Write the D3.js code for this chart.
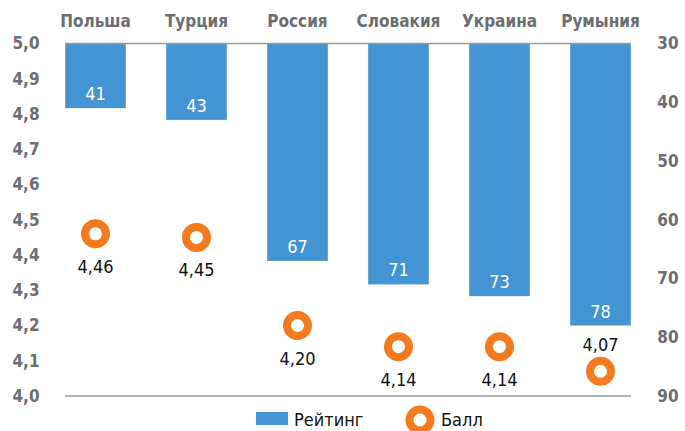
<!DOCTYPE html>
<html>
<head>
<meta charset="utf-8">
<script src="https://cdn.jsdelivr.net/npm/d3@7"></script>
<style>
body { margin: 0; background: #fff; }
text { font-family: "Liberation Sans Narrow", "DejaVu Sans Condensed", "Roboto", sans-serif; }
</style>
</head>
<body>
<div id="chart"></div>
<script>
var countries = ["Польша", "Турция", "Россия", "Словакия", "Украина", "Румыния"]
var rating = [41, 43, 67, 71, 73, 78]
var score = [4.46, 4.45, 4.20, 4.14, 4.14, 4.07]
var scoreTicks = [4.0, 4.1, 4.2, 4.3, 4.4, 4.5, 4.6, 4.7, 4.8, 4.9, 5.0]
var ratingTicks = [30, 40, 50, 60, 70, 80, 90]

var width = 685
var height = 431
var plotTop = 43.5
var plotBottom = 396

var svg = d3.select("#chart").append("svg")
  .attr("width", width)
  .attr("height", height)

var x = d3.scaleBand()
  .domain(countries)
  .range([45, 651])
  .paddingInner(0.4)
  .paddingOuter(0.2)

var yScore = d3.scaleLinear().domain([4, 5]).range([plotBottom, plotTop])
var yRating = d3.scaleLinear().domain([30, 90]).range([plotTop, plotBottom])

var fmt = function(v, d) { return d3.format("." + d + "f")(v).replace(".", ",") }
var gray = "#6d6e71"

// left axis labels
svg.append("g").selectAll("text")
  .data(scoreTicks)
  .enter().append("text")
  .attr("x", 26)
  .attr("y", d => yScore(d))
  .attr("dy", "0.35em")
  .attr("text-anchor", "middle")
  .style("font-size", "17px")
  .style("font-weight", "bold")
  .style("fill", gray)
  .text(d => fmt(d, 1))

// right axis labels
svg.append("g").selectAll("text")
  .data(ratingTicks)
  .enter().append("text")
  .attr("x", 668)
  .attr("y", d => yRating(d))
  .attr("dy", "0.35em")
  .attr("text-anchor", "middle")
  .style("font-size", "17px")
  .style("font-weight", "bold")
  .style("fill", gray)
  .text(d => d)

// category labels
svg.append("g").selectAll("text")
  .data(countries)
  .enter().append("text")
  .attr("x", d => x(d) + x.bandwidth() / 2)
  .attr("y", 27)
  .attr("text-anchor", "middle")
  .style("font-size", "17px")
  .style("font-weight", "bold")
  .style("fill", gray)
  .text(d => d)

var x0 = x(countries[0])
var x1 = x(countries[countries.length - 1]) + x.bandwidth()

// bars
svg.append("g").selectAll("rect")
  .data(countries)
  .enter().append("rect")
  .attr("x", d => x(d))
  .attr("y", yRating(30))
  .attr("width", x.bandwidth())
  .attr("height", (d, i) => yRating(rating[i]) - yRating(30))
  .style("fill", "#4494d3")

svg.append("g").selectAll("text")
  .data(countries)
  .enter().append("text")
  .attr("x", d => x(d) + x.bandwidth() / 2)
  .attr("y", (d, i) => yRating(rating[i]) - 8)
  .attr("text-anchor", "middle")
  .style("font-size", "18px")
  .style("fill", "#fff")
  .text((d, i) => rating[i])

// frame lines
svg.append("line")
  .attr("x1", x0).attr("x2", x1)
  .attr("y1", plotTop).attr("y2", plotTop)
  .style("stroke", "#9b9b9b").style("stroke-width", 1.5)
svg.append("line")
  .attr("x1", x0).attr("x2", x1)
  .attr("y1", plotBottom).attr("y2", plotBottom)
  .style("stroke", "#9b9b9b").style("stroke-width", 1.5)

// score markers
svg.append("g").selectAll("circle")
  .data(countries)
  .enter().append("circle")
  .attr("cx", d => x(d) + x.bandwidth() / 2)
  .attr("cy", (d, i) => yScore(score[i]))
  .attr("r", 10.5)
  .style("fill", "#fff")
  .style("stroke", "#f47a20")
  .style("stroke-width", 8)

svg.append("g").selectAll("text")
  .data(countries)
  .enter().append("text")
  .attr("x", d => x(d) + x.bandwidth() / 2)
  .attr("y", (d, i) => i == countries.length - 1 ? yScore(score[i]) - 20 : yScore(score[i]) + 39)
  .attr("text-anchor", "middle")
  .style("font-size", "18px")
  .style("fill", "#111")
  .text((d, i) => fmt(score[i], 2))

// legend
var legend = svg.append("g")
legend.append("rect")
  .attr("x", 256).attr("y", 412)
  .attr("width", 32).attr("height", 13)
  .style("fill", "#4494d3")
legend.append("text")
  .attr("x", 294).attr("y", 426)
  .style("font-size", "18px")
  .style("fill", "#111")
  .text("Рейтинг")
legend.append("circle")
  .attr("cx", 420).attr("cy", 420)
  .attr("r", 10.5)
  .style("fill", "#fff")
  .style("stroke", "#f47a20")
  .style("stroke-width", 8)
legend.append("text")
  .attr("x", 441).attr("y", 426)
  .style("font-size", "18px")
  .style("fill", "#111")
  .text("Балл")
</script>
</body>
</html>
